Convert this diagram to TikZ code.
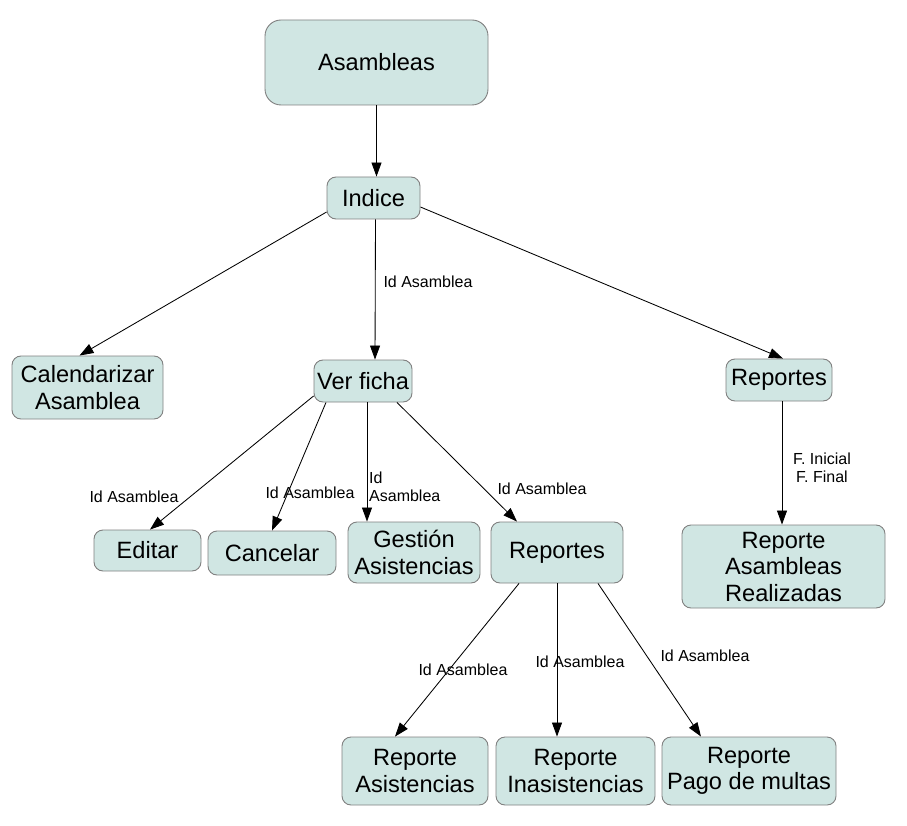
\documentclass[tikz,border=0pt]{standalone}
\usepackage{fontspec}
\setmainfont{Liberation Sans}
\usetikzlibrary{positioning}
\usetikzlibrary{arrows.meta}
\definecolor{boxfill}{RGB}{208,230,227}
\definecolor{boxline}{RGB}{128,128,128}

\begin{document}
\begin{tikzpicture}[x=1pt, y=-1pt,
    box/.style={rectangle, rounded corners=9pt, draw=boxline, fill=boxfill, line width=0.9pt, align=center, inner sep=0pt, font=\fontsize{23.6}{26.5}\selectfont},
    tag/.style={inner sep=0pt, align=center, font=\fontsize{16}{18}\selectfont},
    link/.style={-{Triangle[length=14pt,width=10pt]}, line width=0.85pt},
    ]
        \useasboundingbox (0,0) rectangle (907,826);

        \node[box, rounded corners=16pt, minimum width=223pt, minimum height=85pt] (asambleas) at (376.5,62.5) {Asambleas};
        \node[box, minimum width=93pt, minimum height=42pt] (indice) at (373.5,198) {Indice};
        \node[box, minimum width=151pt, minimum height=63pt] (calendarizar) at (87.5,387.5) {Calendarizar\\Asamblea};
        \node[box, minimum width=98pt, minimum height=42pt] (verficha) at (363,381) {Ver ficha};
        \node[box, minimum width=106pt, minimum height=42pt] (reportes) at (779,380) {Reportes};

        \node[box, minimum width=107pt, minimum height=41pt] (editar) at (147.5,550.5) {Editar};
        \node[box, minimum width=128pt, minimum height=44pt] (cancelar) at (272,553) {Cancelar};
        \node[box, minimum width=132pt, minimum height=61pt] (gestion) at (414,552.5) {Gestión\\Asistencias};
        \node[box, minimum width=132pt, minimum height=61pt] (repficha) at (557,552.5) {Reportes};
        \node[box, minimum width=203pt, minimum height=83pt] (repasambleas) at (783.5,566.5) {Reporte\\Asambleas\\Realizadas};

        \node[box, minimum width=146pt, minimum height=68pt] (repasistencias) at (415,771) {Reporte\\Asistencias};
        \node[box, minimum width=159pt, minimum height=68pt] (repinasistencias) at (575.5,771) {Reporte\\Inasistencias};
        \node[box, minimum width=174pt, minimum height=68pt] (repmultas) at (749,771) {Reporte\\Pago de multas};

        % etiquetas
        \node[tag] (t1) at (428,282) {Id Asamblea};
        \node[tag] (t2) at (134,497) {Id Asamblea};
        \node[tag] (t3) at (310,493) {Id Asamblea};
        \node[tag, anchor=west, align=left] (t4) at (369,487) {Id\\Asamblea};
        \node[tag] (t5) at (542,489) {Id Asamblea};
        \node[tag] (t6) at (822,468) {F. Inicial\\F. Final};
        \node[tag] (t7) at (463,670) {Id Asamblea};
        \node[tag] (t8) at (580,662) {Id Asamblea};
        \node[tag] (t9) at (705,656) {Id Asamblea};

        \draw[link] (asambleas.south) -- (asambleas.south |- indice.north);
        \draw[link] ([yshift=-14pt] indice.west) -- ([xshift=-8pt] calendarizar.north);
        \draw[link] ([xshift=2pt] indice.south) -- ([xshift=12pt] verficha.north);
        \draw[link] ([yshift=-9pt] indice.east) -- ([xshift=4pt] reportes.north);

        \draw[link] ([yshift=-15pt] verficha.west) -- ([xshift=2.5pt] editar.north);
        \draw[link] ([xshift=-37pt] verficha.south) -- (cancelar.north);
        \draw[link] ([xshift=4pt] verficha.south) -- ([xshift=4pt] verficha.south |- gestion.north);
        \draw[link] ([xshift=34pt] verficha.south) -- ([xshift=-40pt] repficha.north);
        \draw[link] ([xshift=3pt] reportes.south) -- ([xshift=3pt] reportes.south |- repasambleas.north);

        \draw[link] ([xshift=-38pt] repficha.south) -- ([xshift=-20pt] repasistencias.north);
        \draw[link] (repficha.south) -- (repficha.south |- repinasistencias.north);
        \draw[link] ([xshift=41pt] repficha.south) -- ([xshift=-48pt] repmultas.north);
    \end{tikzpicture}
\end{document}
